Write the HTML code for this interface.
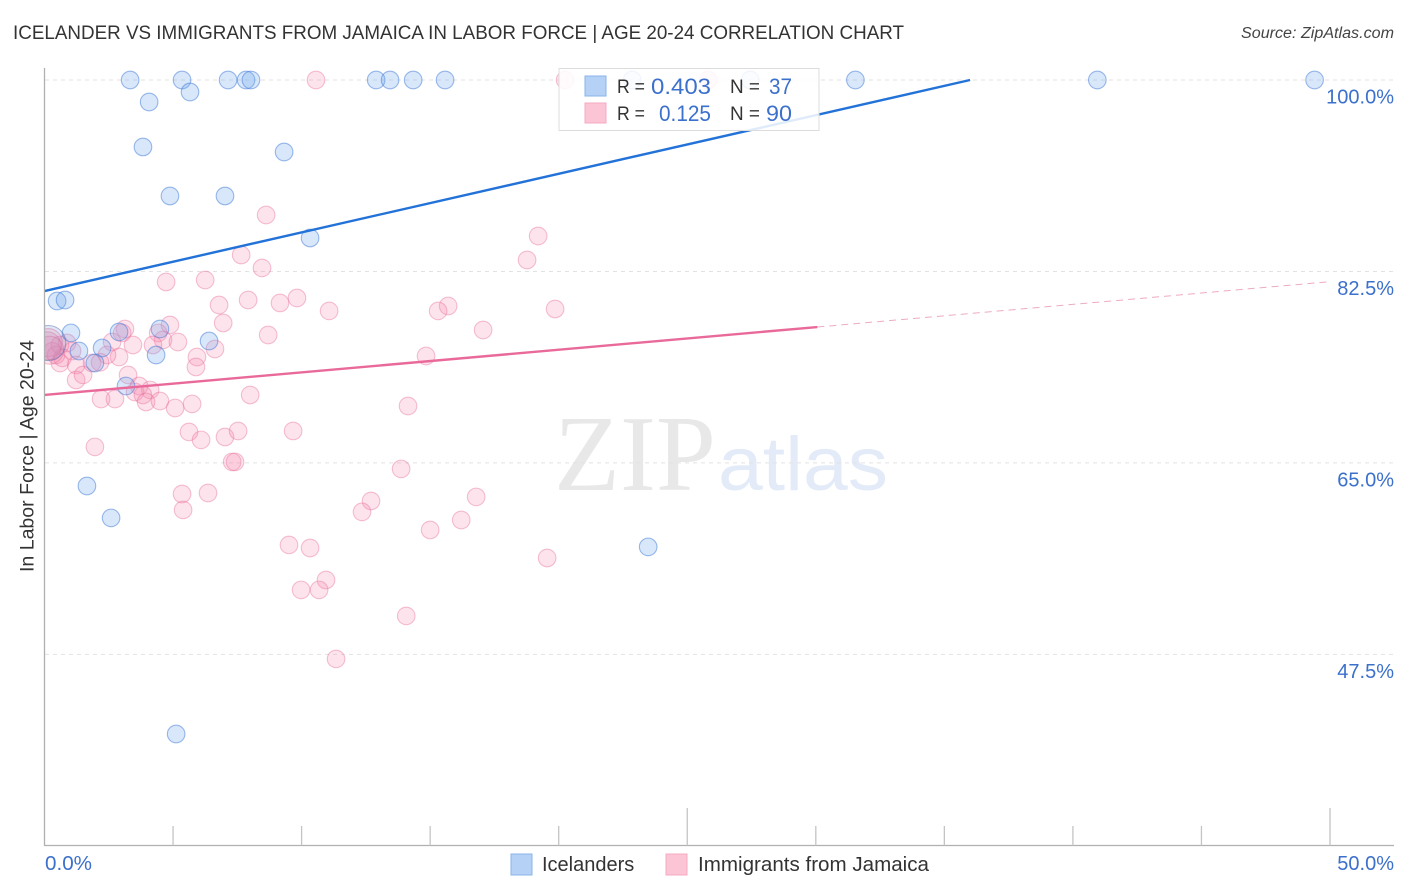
<!DOCTYPE html>
<html lang="en">
<head>
<meta charset="utf-8">
<title>Icelander vs Immigrants from Jamaica in Labor Force | Age 20-24 Correlation Chart</title>
<style>
html,body{margin:0;padding:0;background:#fff;}
body{width:1406px;height:892px;overflow:hidden;}
svg{display:block;font-family:"Liberation Sans",sans-serif;}
</style>
</head>
<body>
<svg id="chart" width="1406" height="892" viewBox="0 0 1406 892" xmlns="http://www.w3.org/2000/svg">
  <defs>
    <clipPath id="plot-clip"><rect x="45" y="60" width="1349" height="785"/></clipPath>
  </defs>
  <rect x="0" y="0" width="1406" height="892" fill="#fff"/>
  <text x="13" y="39" font-size="19" fill="#333" textLength="891" lengthAdjust="spacingAndGlyphs">ICELANDER VS IMMIGRANTS FROM JAMAICA IN LABOR FORCE | AGE 20-24 CORRELATION CHART</text>
  <text x="1394" y="38" font-size="15.5" font-style="italic" fill="#444" text-anchor="end" textLength="153" lengthAdjust="spacingAndGlyphs">Source: ZipAtlas.com</text>
  <g>
    <text x="554" y="490" font-family="'Liberation Serif',serif" font-size="108" fill="#e8e8e8" textLength="162" lengthAdjust="spacingAndGlyphs">ZIP</text>
    <text x="718" y="490" font-size="76" fill="#e3ebf8" textLength="170" lengthAdjust="spacingAndGlyphs">atlas</text>
  </g>
  <g id="grid"></g>
  <g clip-path="url(#plot-clip)">
    <g id="pink-points"></g>
    <g id="blue-points"></g>
  </g>
  <g id="trends"></g>
  <g id="axes"></g>
  <text transform="translate(33.5,456) rotate(-90)" font-size="19" fill="#333" text-anchor="middle" textLength="232" lengthAdjust="spacingAndGlyphs">In Labor Force | Age 20-24</text>
  <g>
    <rect x="559" y="68.5" width="260" height="62" fill="#fff" fill-opacity="0.86" stroke="#dcdcdc" stroke-width="1"/>
    <rect x="585" y="76" width="21" height="20" fill="#b5d1f5" stroke="#8ab4ea" stroke-width="1"/>
    <rect x="585" y="103" width="21" height="20" fill="#fcc5d6" stroke="#f4a9c0" stroke-width="1"/>
    <g font-size="19" fill="#333">
      <text x="617" y="93" textLength="28" lengthAdjust="spacingAndGlyphs">R =</text>
      <text x="730" y="93" textLength="30" lengthAdjust="spacingAndGlyphs">N =</text>
      <text x="617" y="120" textLength="28" lengthAdjust="spacingAndGlyphs">R =</text>
      <text x="730" y="120" textLength="30" lengthAdjust="spacingAndGlyphs">N =</text>
    </g>
    <g font-size="22" fill="#3b70cc">
      <text x="651" y="94" textLength="60" lengthAdjust="spacingAndGlyphs">0.403</text>
      <text x="769" y="94" textLength="23" lengthAdjust="spacingAndGlyphs">37</text>
      <text x="659" y="121" textLength="52" lengthAdjust="spacingAndGlyphs">0.125</text>
      <text x="766" y="121" textLength="26" lengthAdjust="spacingAndGlyphs">90</text>
    </g>
  </g>
  <g>
    <rect x="511" y="854" width="21" height="21" fill="#b5d1f5" stroke="#8ab4ea" stroke-width="1"/>
    <text x="542" y="871" font-size="20" fill="#333">Icelanders</text>
    <rect x="666" y="854" width="21" height="21" fill="#fcc5d6" stroke="#f4a9c0" stroke-width="1"/>
    <text x="698" y="871" font-size="20" fill="#333" textLength="231" lengthAdjust="spacingAndGlyphs">Immigrants from Jamaica</text>
  </g>
</svg>
<script>
var blueX = [3.33,5.35,7.14,7.84,8.03,12.90,13.44,14.34,15.58,22.86,27.45,31.54,40.95,49.40,4.07,5.66,3.83,9.32,4.88,7.02,10.33,0.49,0.80,1.03,2.90,4.49,4.34,6.40,1.34,2.24,1.96,3.17,1.65,2.59,23.48,5.12];
var blueY = [100,100,100,100,100,100,100,100,100,100,100,100,100,100,97.99,98.9,93.88,93.42,89.4,89.4,85.56,79.8,79.89,76.88,76.97,77.24,74.86,76.14,75.23,75.5,74.13,72.03,62.89,59.97,57.32,40.22];
var blueLargeX = [0.15];
var blueLargeY = [75.96];
var pinkX = [10.56,20.25,25.82,8.62,19.2,7.65,18.77,8.46,6.25,4.73,9.82,7.92,6.79,9.16,15.7,15.31,19.86,11.07,6.95,4.88,17.06,8.7,3.13,3.02,4.42,4.61,5.19,3.44,4.22,2.63,6.63,14.84,5.93,2.9,5.89,2.43,0.88,1.07,1.23,0.6,1.23,1.5,1.85,3.25,3.68,4.11,3.52,3.83,3.95,4.49,5.08,5.74,8.0,2.74,2.2,14.14,1.96,5.62,6.09,7.02,7.53,9.67,7.3,7.41,13.87,5.35,6.36,5.39,12.7,12.35,16.79,16.21,15.0,19.55,9.51,10.33,10.95,9.98,10.68,14.07,11.34,0.45,2.16,0.6,0.3,0.7];
var pinkY = [100,100,100,87.66,85.74,84.0,83.55,82.82,81.72,81.54,80.07,79.89,79.43,79.62,79.34,78.89,79.07,78.89,77.79,77.61,77.15,76.69,77.24,76.88,76.88,76.24,76.05,75.78,75.78,76.05,75.41,74.77,74.68,74.68,73.77,74.86,75.96,75.23,73.95,74.13,72.58,73.04,74.13,73.04,72.03,71.67,71.48,71.21,70.57,70.66,70.02,70.39,71.21,70.84,70.84,70.2,66.46,67.83,67.1,67.37,67.92,67.92,65.09,65.09,64.45,62.16,62.25,60.7,61.52,60.52,61.89,59.78,58.87,56.31,57.5,57.22,54.3,53.39,53.39,51.01,47.08,74.86,74.2,75.78,75.2,74.6];
var pinkLargeX = [0.15,0.1,0.2];
var pinkLargeY = [76.0,75.7,75.3];
var blueTrendX = [0,36];
var blueTrendY = [80.71,100];
var pinkTrendX = [0,30.06];
var pinkTrendY = [71.21,77.42];
var pinkProjectionX = [30.06,49.86];
var pinkProjectionY = [77.42,81.54];
var yTickValues = [100,82.5,65,47.5];
var yTickLabels = ['100.0%','82.5%','65.0%','47.5%'];
var xMinorTickValues = [5,10,15,20,30,35,40,45];
var xMajorTickValues = [25,50];
var xEndLabels = ['0.0%','50.0%'];

var NS = 'http://www.w3.org/2000/svg';
function xScale(v){ return 44.5 + v * 25.71; }
function yScale(v){ return 80 + (100 - v) * 10.94; }
function make(tag, attrs, parent){
  var el = document.createElementNS(NS, tag);
  for (var k in attrs) el.setAttribute(k, attrs[k]);
  parent.appendChild(el);
  return el;
}
var grid = document.getElementById('grid');
var axes = document.getElementById('axes');
var trends = document.getElementById('trends');

yTickValues.forEach(function(v, i){
  var line = make('line', {x1:45, x2:1394, y1:yScale(v), y2:yScale(v), stroke:'#e2e2e2', 'stroke-width':1, 'stroke-dasharray':'4 4'}, grid);
  
  
  var label = make('text', {x:1394, y:yScale(v)+23.5, 'font-size':20, fill:'#3b70cc', 'text-anchor':'end'}, axes);
  
  
  label.textContent = yTickLabels[i];
});

var yAxis = make('line', {x1:44.5, x2:44.5, y1:68, y2:845.5, stroke:'#b0b0b0', 'stroke-width':1.3}, axes);


var xAxis = make('line', {x1:44, x2:1394, y1:845.5, y2:845.5, stroke:'#b0b0b0', 'stroke-width':1.3}, axes);


xMinorTickValues.forEach(function(v){
  var t = make('line', {x1:xScale(v), x2:xScale(v), y1:826, y2:845.5, stroke:'#c4c4c4', 'stroke-width':1.3}, axes);
  
  
});
xMajorTickValues.forEach(function(v){
  var t = make('line', {x1:xScale(v), x2:xScale(v), y1:808, y2:845.5, stroke:'#c4c4c4', 'stroke-width':1.3}, axes);
  
  
});
var x0 = make('text', {x:45, y:870, 'font-size':20, fill:'#3b70cc', textLength:47, lengthAdjust:'spacingAndGlyphs'}, axes);


x0.textContent = xEndLabels[0];
var x1 = make('text', {x:1394, y:870, 'font-size':20, fill:'#3b70cc', 'text-anchor':'end'}, axes);


x1.textContent = xEndLabels[1];

function drawPoints(xs, ys, groupId, radius, fill, stroke){
  var g = document.getElementById(groupId);
  xs.forEach(function(v, i){
    var c = make('circle', {cx:xScale(v), cy:yScale(ys[i]), r:radius, fill:fill, stroke:stroke, 'stroke-width':1.1}, g);
    
    
  });
}
var pinkFill = 'rgba(246,140,175,0.24)', pinkStroke = 'rgba(232,110,155,0.42)';
var blueFill = 'rgba(110,165,235,0.27)', blueStroke = 'rgba(60,120,215,0.5)';
drawPoints(pinkX, pinkY, 'pink-points', 8.8, pinkFill, pinkStroke);
drawPoints(pinkLargeX, pinkLargeY, 'pink-points', 14, pinkFill, pinkStroke);
drawPoints(blueX, blueY, 'blue-points', 8.8, blueFill, blueStroke);
drawPoints(blueLargeX, blueLargeY, 'blue-points', 17.5, 'rgba(110,140,205,0.2)', 'rgba(80,110,180,0.5)');

var bt = make('line', {x1:xScale(blueTrendX[0]), y1:yScale(blueTrendY[0]), x2:xScale(blueTrendX[1]), y2:yScale(blueTrendY[1]), stroke:'#2272d8', 'stroke-width':2.4}, trends);


var pt = make('line', {x1:xScale(pinkTrendX[0]), y1:yScale(pinkTrendY[0]), x2:xScale(pinkTrendX[1]), y2:yScale(pinkTrendY[1]), stroke:'#e96a9a', 'stroke-width':2.4}, trends);


var pp = make('line', {x1:xScale(pinkProjectionX[0]), y1:yScale(pinkProjectionY[0]), x2:xScale(pinkProjectionX[1]), y2:yScale(pinkProjectionY[1]), stroke:'#eeaac4', 'stroke-width':1, 'stroke-dasharray':'7 5'}, trends);


</script>
</body>
</html>
